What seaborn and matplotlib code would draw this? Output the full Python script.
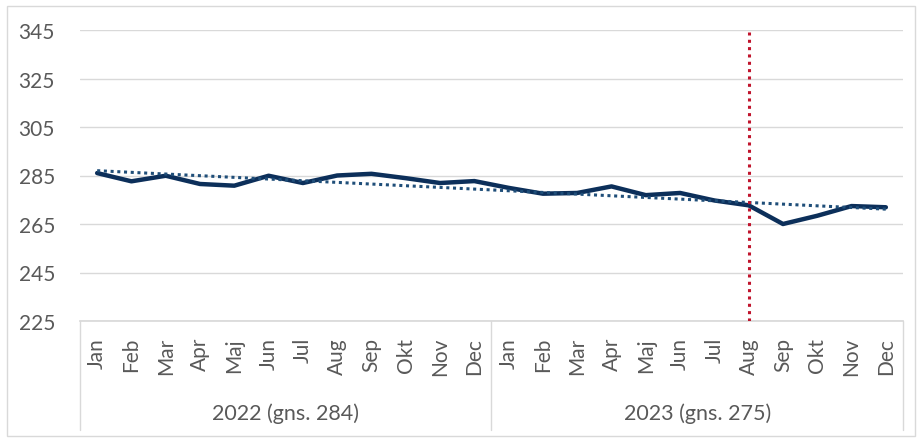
import pandas as pd
import seaborn as sns
import matplotlib.pyplot as plt
import matplotlib.transforms as mtransforms
from matplotlib.patches import Rectangle

# Data
months = ['Jan', 'Feb', 'Mar', 'Apr', 'Maj', 'Jun', 'Jul', 'Aug', 'Sep', 'Okt', 'Nov', 'Dec']
years = ['2022 (gns. 284)', '2023 (gns. 275)']
values_2022 = [286.0, 282.6, 284.9, 281.5, 280.8, 284.9, 281.9, 285.0, 285.7, 283.9, 281.9, 282.7]
values_2023 = [279.9, 277.5, 277.8, 280.5, 276.9, 277.8, 274.7, 272.7, 265.0, 268.4, 272.4, 271.9]
yticks = [225, 245, 265, 285, 305, 325, 345]
marker_month = 'Aug'
marker_year = 1

df = pd.DataFrame({
    'month': months * 2,
    'value': values_2022 + values_2023,
})
df['idx'] = range(len(df))

sns.set_theme(style='white')
plt.rcParams['font.family'] = ['Lato', 'DejaVu Sans']

fig = plt.figure(figsize=(9.17, 4.39), dpi=100)
ax = fig.add_axes([80 / 917, 1 - 322 / 439, 823 / 917, 291 / 439])

# chart border
fig.patches.append(Rectangle((7 / 917, 2 / 439), 908 / 917, 430 / 439, transform=fig.transFigure,
                             fill=False, edgecolor='#d9d9d9', linewidth=1))

for y in yticks:
    ax.axhline(y, color='#d9d9d9', linewidth=1, zorder=0)

sns.lineplot(data=df, x='idx', y='value', ax=ax, color='#0c2f5a', linewidth=3.2, zorder=3)
sns.regplot(data=df, x='idx', y='value', ax=ax, scatter=False, ci=None,
            line_kws=dict(color='#1f4e79', linestyle=(0, (1, 1.2)), linewidth=2.2, zorder=4))

# red marker line
mx = len(months) * marker_year + months.index(marker_month)
ax.vlines(mx, 225, 344, color='#c0142c', linestyles=(0, (1, 1.4)), linewidth=2.2, zorder=5)

ax.set_xlim(-0.5, len(df) - 0.5)
ax.set_ylim(225, 345)
ax.set_yticks(yticks)
ax.set_yticklabels([str(y) for y in yticks], fontsize=15, color='#595959')
ax.set_xticks(df['idx'])
ax.set_xticklabels(df['month'], rotation=90, fontsize=15, color='#595959')
ax.tick_params(axis='x', length=0, pad=11.5)
ax.tick_params(axis='y', length=0, pad=18)
ax.set_xlabel('')
ax.set_ylabel('')
for s in ['top', 'right', 'left']:
    ax.spines[s].set_visible(False)
ax.spines['bottom'].set_color('#d9d9d9')

# multi-level category axis
trans = mtransforms.blended_transform_factory(ax.transData, ax.transAxes)
for xs in [-0.5, 11.5, 23.5]:
    ax.plot([xs, xs], [0, -0.375], transform=trans, color='#d9d9d9', linewidth=1, clip_on=False)
for i, label in enumerate(years):
    ax.text(i * 12 + 5.5, -0.315, label, transform=trans, ha='center', va='center',
            fontsize=15.5, color='#595959')

fig.savefig('out.png', dpi=100)
